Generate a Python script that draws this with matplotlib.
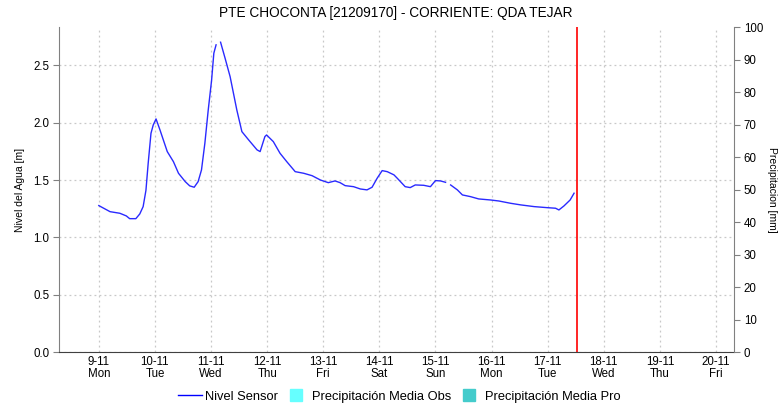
import numpy as np
import matplotlib.pyplot as plt
from matplotlib.lines import Line2D

plt.rcParams['font.family'] = ['Liberation Sans', 'DejaVu Sans']

titulo = 'PTE CHOCONTA [21209170] - CORRIENTE: QDA TEJAR'

# dias contados desde 9-11 00:00
dias = [0.0, 0.2, 0.375, 0.49, 0.55, 0.66, 0.73, 0.79, 0.84, 0.88, 0.93, 0.97,
        1.02, 1.09, 1.16, 1.22, 1.33, 1.42, 1.54, 1.62, 1.70, 1.77, 1.83, 1.89,
        1.95, 2.01, 2.05, 2.09, 2.13, 2.17, 2.25, 2.34, 2.46, 2.55, 2.67, 2.82,
        2.875, 2.96, 2.99, 3.11, 3.23, 3.35, 3.5, 3.65, 3.80, 3.95, 4.09, 4.21,
        4.30, 4.39, 4.54, 4.66, 4.78, 4.87, 4.96, 5.05, 5.14, 5.26, 5.32, 5.46,
        5.55, 5.64, 5.79, 5.91, 6.0, 6.09, 6.18, 6.22, 6.27, 6.39, 6.48, 6.625,
        6.77, 6.98, 7.13, 7.34, 7.52, 7.76, 7.99, 8.14, 8.20, 8.29, 8.40, 8.47]
nivel = [1.277, 1.224, 1.21, 1.187, 1.163, 1.163, 1.204, 1.268, 1.41, 1.646, 1.908, 1.98,
         2.033, 1.937, 1.835, 1.748, 1.66, 1.559, 1.486, 1.449, 1.437, 1.486, 1.588, 1.82,
         2.11, 2.37, 2.606, 2.679, np.nan, 2.702, 2.563, 2.402, 2.11, 1.922, 1.85, 1.763,
         1.748, 1.879, 1.893, 1.835, 1.733, 1.66, 1.573, 1.559, 1.538, 1.50, 1.477, 1.492,
         1.477, 1.451, 1.442, 1.422, 1.414, 1.437, 1.515, 1.582, 1.573, 1.545, 1.515, 1.442,
         1.434, 1.457, 1.454, 1.442, 1.495, 1.492, 1.48, np.nan, 1.457, 1.414, 1.37, 1.355,
         1.335, 1.326, 1.317, 1.297, 1.283, 1.268, 1.259, 1.254, 1.239, 1.274, 1.326, 1.385]

fechas = ['9-11\nMon', '10-11\nTue', '11-11\nWed', '12-11\nThu', '13-11\nFri', '14-11\nSat',
          '15-11\nSun', '16-11\nMon', '17-11\nTue', '18-11\nWed', '19-11\nThu', '20-11\nFri']
ahora = 8.53

fig = plt.figure(figsize=(7.8, 4.04), dpi=100)
ax = fig.add_axes([0.0756, 0.1287, 0.8654, 0.8043])

ax.plot(dias, nivel, color='#2a2aff', lw=1.0)
ax.axvline(ahora, color='red', lw=1.2)

ax.set_xlim(-0.71, 11.32)
ax.set_ylim(0, 2.834)
ax.set_xticks(range(len(fechas)))
ax.set_xticklabels(fechas, fontsize=8.3, linespacing=1.0)
ax.set_yticks(np.arange(0, 2.6, 0.5))
ax.set_yticklabels(['%.1f' % v for v in np.arange(0, 2.6, 0.5)], fontsize=8.3)
ax.tick_params(axis='x', length=0, pad=3)
ax.tick_params(axis='y', length=4, color='#808080', pad=3)
ax.grid(True, color='#c8c8c8', linestyle=(0, (1.5, 2.5)), lw=0.9)
ax.set_ylabel('Nivel del Agua [m]', fontsize=7.5, labelpad=6)

ax.spines['top'].set_visible(False)
ax.spines['left'].set_color('#808080')
ax.spines['right'].set_visible(False)
ax.spines['bottom'].set_color('#404040')
ax.spines['bottom'].set_linestyle((0, (1, 1)))

ax2 = ax.twinx()
ax2.set_ylim(0, 100)
ax2.set_yticks(range(0, 101, 10))
ax2.tick_params(axis='y', length=4, color='#808080', labelsize=8.3, pad=3)
ax2.set_ylabel('Precipitacion [mm]', fontsize=7.5, rotation=270, labelpad=10)
for s in ['top', 'left', 'bottom']:
    ax2.spines[s].set_visible(False)
ax2.spines['right'].set_color('#808080')

fig.text(0.508, 0.968, titulo, ha='center', va='center', fontsize=9.8)

handles = [Line2D([], [], color='blue', lw=1),
           Line2D([], [], marker='s', ls='none', color='#66ffff', markersize=8),
           Line2D([], [], marker='s', ls='none', color='#44cccc', markersize=8)]
labels = ['Nivel Sensor', 'Precipitación Media Obs', 'Precipitación Media Pro']
fig.legend(handles, labels, loc='center', bbox_to_anchor=(0.512, 0.018), ncol=3,
           frameon=False, fontsize=9.3, handlelength=1.8, handletextpad=0.3,
           columnspacing=0.5)

fig.savefig('out.png', dpi=100)
